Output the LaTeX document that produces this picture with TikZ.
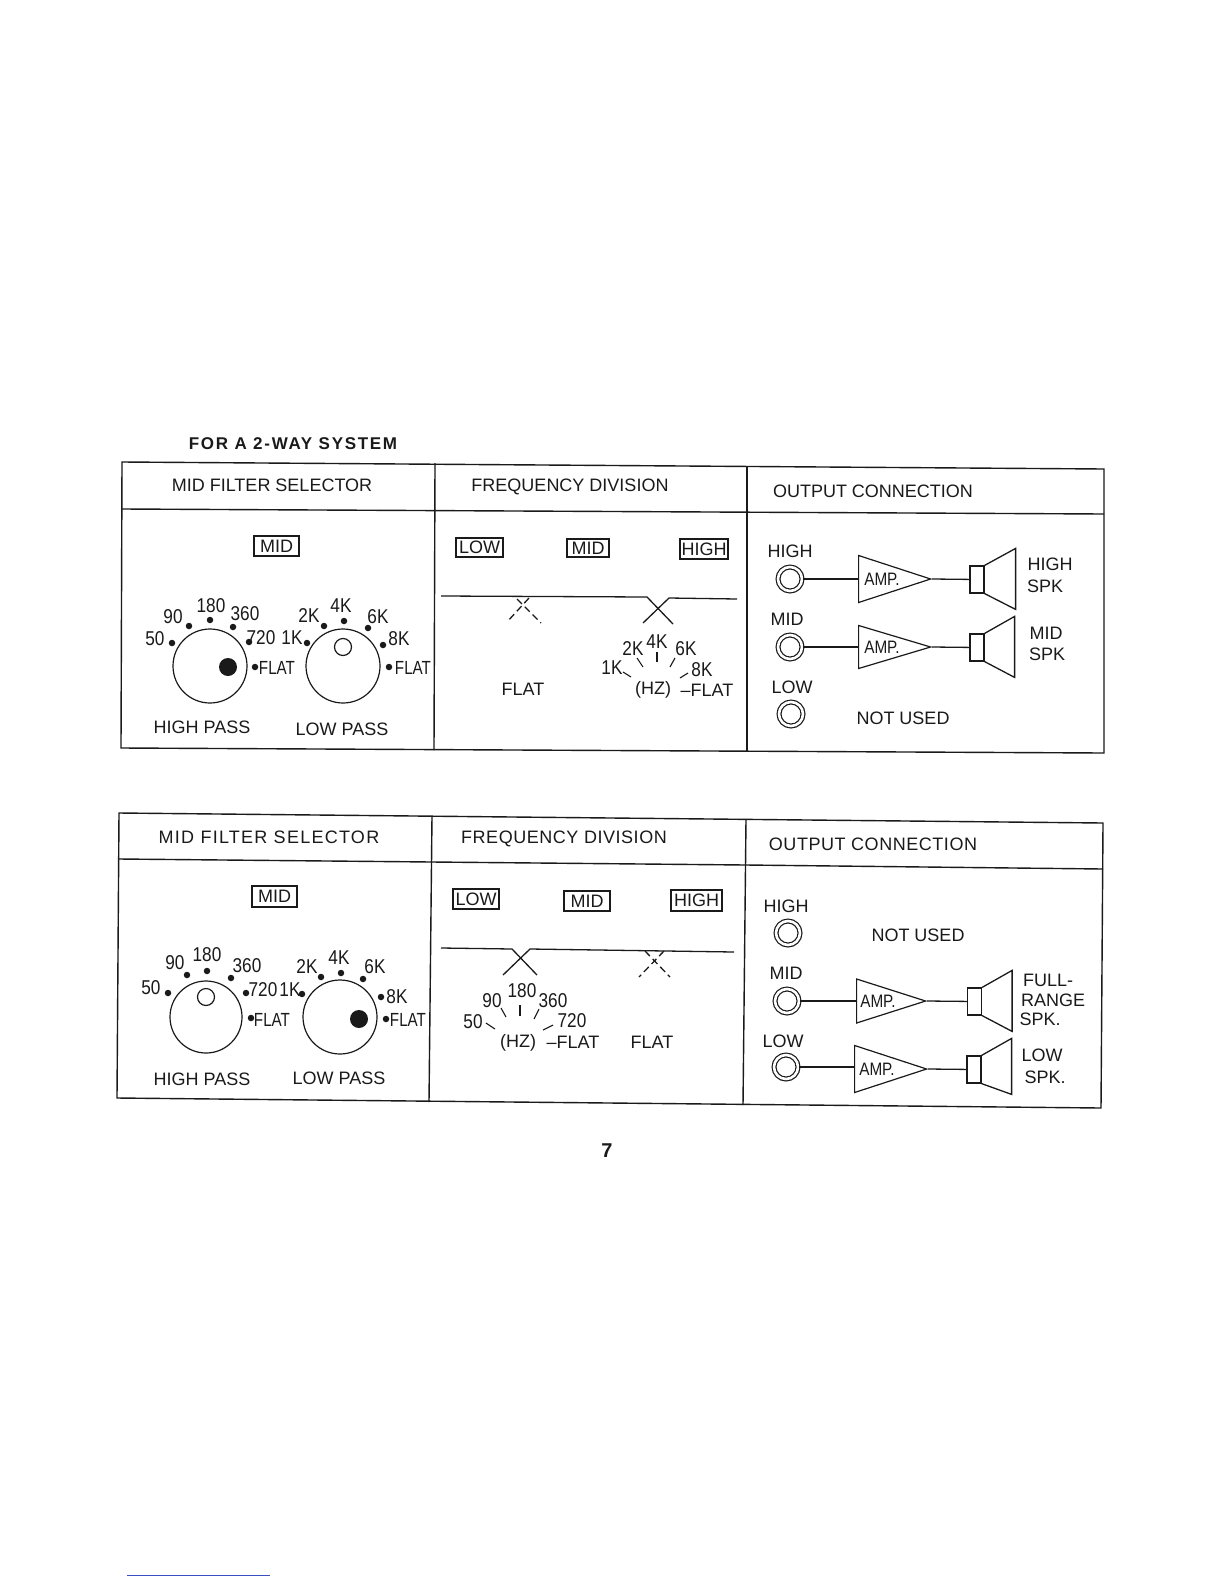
\documentclass[tikz,border=0pt]{standalone}
\usepackage{fontspec}
\setmainfont{Liberation Sans}
\usetikzlibrary{positioning,shapes.geometric}
\definecolor{ink}{HTML}{1A1A1A}
\definecolor{rule}{HTML}{3A4FC0}
\tikzset{
  txt/.style={inner sep=0pt,align=center,text=ink,font=\fontsize{18}{21}\selectfont},
  hdr/.style={inner sep=0pt,text=ink,font=\fontsize{18}{21}\selectfont},
  hdrwide/.style={inner sep=0pt,text=ink,font=\fontsize{18}{21}\selectfont\addfontfeature{LetterSpace=3}},
  small/.style={inner sep=0pt,text=ink,font=\fontsize{19}{21}\selectfont\addfontfeature{FakeStretch=0.8}},
  num/.style={inner sep=0pt,text=ink,font=\fontsize{20}{22}\selectfont\addfontfeature{FakeStretch=0.86}},
  tag/.style={draw=ink,line width=1.2pt,inner sep=0pt,text=ink,font=\fontsize{18}{20}\selectfont},
  knob/.style={circle,draw=ink,line width=1.2pt,inner sep=0pt,minimum size=74pt},
  dotmark/.style={circle,fill=ink,inner sep=0pt,minimum size=6.5pt},
  ptr/.style={circle,draw=ink,line width=1.2pt,inner sep=0pt,minimum size=17pt},
  ptrfull/.style={circle,fill=ink,inner sep=0pt,minimum size=18pt},
  jack/.style={circle,draw=ink,line width=1.2pt,double=white,double distance=2.6pt,inner sep=0pt,minimum size=24pt},
  amp/.style={isosceles triangle,isosceles triangle stretches,draw=ink,line width=1.2pt,inner sep=0pt,minimum width=47pt,minimum height=72pt,anchor=lower side},
  amptxt/.style={inner sep=0pt,text=ink,font=\fontsize{18}{20}\selectfont\addfontfeature{FakeStretch=0.85}},
  voice/.style={draw=ink,line width=1.2pt,inner sep=0pt,minimum width=14pt,minimum height=27pt},
  wire/.style={draw=ink,line width=1.3pt},
  dashwire/.style={draw=ink,line width=1.3pt,dash pattern=on 7pt off 4pt},
  tick/.style={draw=ink,line width=1.1pt},
  frame/.style={draw=ink,line width=1.4pt}}
\begin{document}
\begin{tikzpicture}[x=1pt,y=-1pt]
  \useasboundingbox (0,0) rectangle (1224,1584);
  \fill[white] (0,0) rectangle (1224,1584);
  \node[inner sep=0pt,text=ink,font=\fontsize{17}{20}\selectfont\bfseries\addfontfeature{LetterSpace=10}] (title) at (293,444) {FOR A 2-WAY SYSTEM};
  % upper table
  \draw[frame] (122,462) -- (1104,469) -- (1104,753) -- (121,748) -- cycle;
  \draw[frame] (122,509) -- (1104,514);
  \draw[frame] (435,463) -- (434,750);
  \draw[frame] (747,466) -- (747,751);
  \node[hdr] (hsela) at (272,485) {MID FILTER SELECTOR};
  \node[hdr] (hfrqa) at (570,487) {FREQUENCY DIVISION};
  \node[hdr] (houta) at (873,491) {OUTPUT CONNECTION};
  \node[tag,minimum width=45pt,minimum height=20pt] (midsa) at (276.5,546) {MID};
  \node[knob] (kha) at (210,666) {};
  \node[knob] (kla) at (343,666) {};
  \node[ptrfull] (pha) at (228,667) {};
  \node[ptr] (pla) at (343,647) {};
  \foreach \x/\y/\t/\lx/\ly in {172/643/50/155/639,189/626/90/173/617,210/620/180/211/606,233/627/360/245/614,249/642/720/261/638,307/643/1K/292/638,324/626/2K/309/616,344/621/4K/341/606,368/628/6K/378/617,383/645/8K/399/639}
    {\node[dotmark] (a\t d) at (\x,\y) {};
     \node[num] (a\t l) at (\lx,\ly) {\t};}
  \node[dotmark] (aflatd) at (255,667) {};
  \node[dotmark] (bflatd) at (389,667) {};
  \node[small] (aflat) at (277,668) {FLAT};
  \node[small] (bflat) at (413,668) {FLAT};
  \node[txt] (hpa) at (202,727) {HIGH PASS};
  \node[txt] (lpa) at (342,729) {LOW PASS};
  \node[tag,minimum width=47pt,minimum height=19pt] (lowa) at (479.5,547.5) {LOW};
  \node[tag,minimum width=42pt,minimum height=18pt] (mida) at (588,548) {MID};
  \node[tag,minimum width=48pt,minimum height=20pt] (higha) at (704,549) {HIGH};
  \draw[wire] (441,596) -- (647,597) -- (673,624);
  \draw[wire] (643,623) -- (669,598) -- (737,599);
  \draw[dashwire] (517,599) -- (541,623);
  \draw[dashwire] (529,598) -- (507,622);
  \node[txt] (flata) at (523,689) {FLAT};
  \foreach \lx/\ly/\t/\ax/\ay/\bx/\by in {612/668/1K/623/672/631/677,633/649/2K/637/658/643/667,657/642/4K/657/652/657/662,686/649/6K/675/658/670/667,702/670/8K/688/673/680/678}
    {\node[num] (fa\t) at (\lx,\ly) {\t};
     \draw[tick] (\ax,\ay) -- (\bx,\by);}
  \node[txt] (hza) at (653,690) {(HZ)};
  \node[txt] (fflata) at (707,690) {--FLAT};
  % upper outputs
  \node[txt] (ohigh) at (790,551) {HIGH};
  \node[jack] (jhigh) at (790,579) {};
  \node[amp] (ahigh) at (858,579) {};
  \node[amptxt] (tahigh) at (882,579) {AMP.};
  \node[voice] (vhigh) at (977,579.5) {};
  \draw[wire] (jhigh) -- (ahigh.lower side);
  \draw[wire] (ahigh.apex) -- (vhigh);
  \draw[wire] (vhigh.north east) -- ++(31,-17) -- ++(0,61) -- (vhigh.south east);
  \node[txt] (shigh) at (1050,564) {HIGH};
  \node[txt] (sphigh) at (1045,586) {SPK};
  \node[txt] (omid) at (787,619) {MID};
  \node[jack] (jmid) at (790,647) {};
  \node[amp,minimum width=43pt] (amid) at (858,647) {};
  \node[amptxt] (tamid) at (882,647) {AMP.};
  \node[voice] (vmid) at (977,647.5) {};
  \draw[wire] (jmid) -- (amid.lower side);
  \draw[wire] (amid.apex) -- (vmid);
  \draw[wire] (vmid.north east) -- ++(30,-17) -- ++(0,61) -- (vmid.south east);
  \node[txt] (smid) at (1046,633) {MID};
  \node[txt] (spmid) at (1047,654) {SPK};
  \node[txt] (olow) at (792,687) {LOW};
  \node[jack] (jlow) at (791,714) {};
  \node[txt] (nua) at (903,718) {NOT USED};
  % lower table
  \draw[frame] (119,813) -- (1103,823) -- (1101,1108) -- (117,1098) -- cycle;
  \draw[frame] (119,859) -- (432,862) -- (746,865) -- (1103,869);
  \draw[frame] (432,816) -- (429,1102);
  \draw[frame] (746,819) -- (743,1105);
  \node[hdrwide,font=\fontsize{18}{21}\selectfont\addfontfeature{LetterSpace=7}] (hselb) at (269,837) {MID FILTER SELECTOR};
  \node[hdrwide] (hfrqb) at (564,839) {FREQUENCY DIVISION};
  \node[hdrwide] (houtb) at (873,844) {OUTPUT CONNECTION};
  \node[tag,minimum width=45pt,minimum height=21pt] (midsb) at (274.5,896.5) {MID};
  \node[knob,minimum size=72pt] (khb) at (206,1017) {};
  \node[knob] (klb) at (340,1017) {};
  \node[ptr] (phb) at (206,997) {};
  \node[ptrfull] (plb) at (359,1019) {};
  \foreach \x/\y/\t/\lx/\ly in {168/993/50/151/988,187/975/90/175/963,207/971/180/207/955,231/978/360/247/966,246/993/720/263/990,302/994/1K/290/990,321/977/2K/307/967,341/973/4K/339/958,363/979/6K/375/967,381/997/8K/397/997}
    {\node[dotmark] (b\t d) at (\x,\y) {};
     \node[num] (b\t l) at (\lx,\ly) {\t};}
  \node[dotmark] (cflatd) at (251,1018) {};
  \node[dotmark] (dflatd) at (386,1019) {};
  \node[small] (cflat) at (272,1020) {FLAT};
  \node[small] (dflat) at (408,1020) {FLAT};
  \node[txt] (hpb) at (202,1079) {HIGH PASS};
  \node[txt] (lpb) at (339,1078) {LOW PASS};
  \node[tag,minimum width=46pt,minimum height=20pt] (lowb) at (476,899) {LOW};
  \node[tag,minimum width=46pt,minimum height=20pt] (midb) at (587,901) {MID};
  \node[tag,minimum width=51pt,minimum height=21pt] (highb) at (696.5,900.5) {HIGH};
  \draw[wire] (441,948) -- (512,949) -- (537,975);
  \draw[wire] (503,975) -- (530,949) -- (734,952);
  \draw[dashwire] (645,951) -- (670,977);
  \draw[dashwire] (664,951) -- (639,977);
  \foreach \lx/\ly/\t/\ax/\ay/\bx/\by in {473/1022/50/486/1023/495/1029,492/1001/90/501/1008/506/1017,522/991/180/520/1005/520/1016,553/1001/360/539/1009/534/1019,572/1021/720/553/1025/543/1030}
    {\node[num] (fb\t) at (\lx,\ly) {\t};
     \draw[tick] (\ax,\ay) -- (\bx,\by);}
  \node[txt] (hzb) at (518,1043) {(HZ)};
  \node[txt] (fflatb) at (573,1042) {--FLAT};
  \node[txt] (flatb) at (652,1042) {FLAT};
  % lower outputs
  \node[txt] (phigh) at (786,906) {HIGH};
  \node[jack] (khigh) at (788,933) {};
  \node[txt] (nub) at (918,935) {NOT USED};
  \node[txt] (pmid) at (786,973) {MID};
  \node[jack] (kmid) at (787,1001) {};
  \node[amp,minimum width=44pt,minimum height=69pt] (bmid) at (856,1001) {};
  \node[amptxt] (tbmid) at (878,1001) {AMP.};
  \node[voice] (wmid) at (974.5,1001.5) {};
  \draw[wire] (kmid) -- (bmid.lower side);
  \draw[wire] (bmid.apex) -- (wmid);
  \draw[wire] (wmid.north east) -- ++(30,-17) -- ++(0,61) -- (wmid.south east);
  \node[txt] (sfull) at (1048,980) {FULL-};
  \node[txt] (srange) at (1053,1000) {RANGE};
  \node[txt] (spfull) at (1040,1019) {SPK.};
  \node[txt] (plow) at (783,1041) {LOW};
  \node[jack] (klow) at (786,1067) {};
  \node[amp,minimum height=72pt] (blow) at (854,1069) {};
  \node[amptxt] (tblow) at (877,1069) {AMP.};
  \node[voice] (wlow) at (974,1069.5) {};
  \draw[wire] (klow) -- (klow -| blow.lower side);
  \draw[wire] (blow.apex) -- (wlow);
  \draw[wire] (wlow.north east) -- ++(30,-17) -- ++(0,56) -- (wlow.south east);
  \node[txt] (slow) at (1042,1055) {LOW};
  \node[txt] (splow) at (1045,1077) {SPK.};
  \node[inner sep=0pt,text=ink,font=\fontsize{20}{24}\selectfont\bfseries] (pageno) at (607,1151) {7};
  \coordinate (rulea) at (127,1575);
  \coordinate (ruleb) at (270,1575);
  \draw[rule,line width=1pt] (rulea) -- (ruleb);
\end{tikzpicture}
\end{document}
